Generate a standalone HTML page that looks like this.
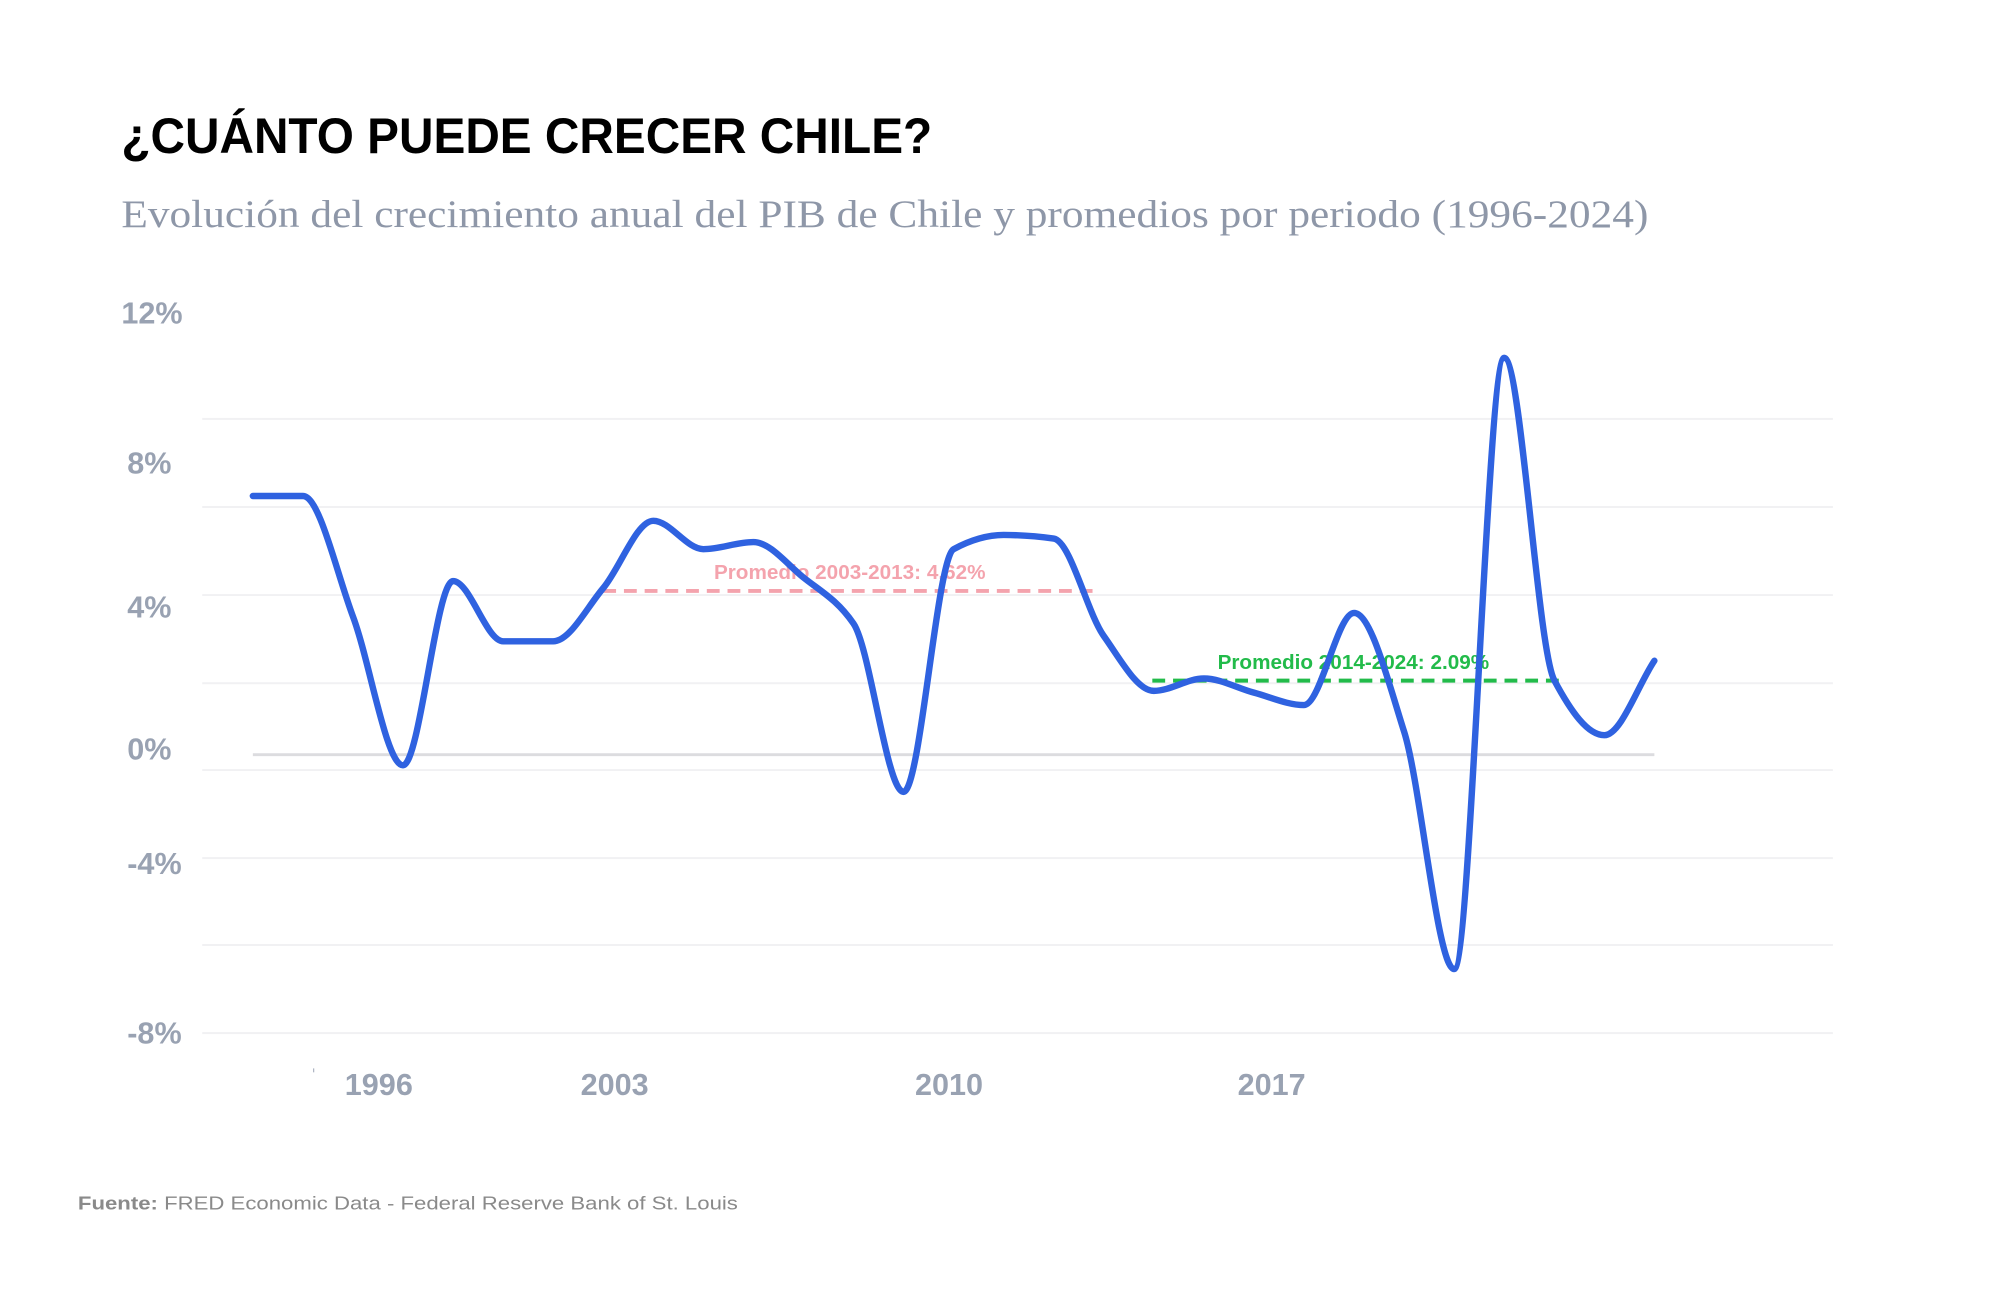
<!DOCTYPE html>
<html><head><meta charset="utf-8"><style>
html,body{margin:0;padding:0;background:#fff;}
svg{display:block;}
</style></head><body>
<svg id="chart" width="2000" height="1300" viewBox="0 0 2000 1300" xmlns="http://www.w3.org/2000/svg" font-family="'Liberation Sans', sans-serif">
<rect width="2000" height="1300" fill="#fff"/>
<g transform="scale(0.9865)">
<text x="123" y="155" font-size="51" font-weight="700" fill="#000" textLength="822" lengthAdjust="spacingAndGlyphs">¿CUÁNTO PUEDE CRECER CHILE?</text>
<text x="123" y="230" font-size="40" font-family="'Liberation Serif', serif" fill="#8e97a8" textLength="1548" lengthAdjust="spacingAndGlyphs">Evolución del crecimiento anual del PIB de Chile y promedios por periodo (1996-2024)</text>
<g id="grid"></g>
<g id="ylabels"></g>
<g id="xlabels"></g>
<line x1="318" y1="1083" x2="318" y2="1087" stroke="#9aa3b3" stroke-width="1"/>
<g id="plot"></g>
<text x="79" y="1226" font-size="19" fill="#8a8a8a" textLength="669" lengthAdjust="spacingAndGlyphs"><tspan font-weight="700">Fuente:</tspan> FRED Economic Data - Federal Reserve Bank of St. Louis</text>
</g>
</svg>
<script>
const years = [1996,1997,1998,1999,2000,2001,2002,2003,2004,2005,2006,2007,2008,2009,2010,2011,2012,2013,2014,2015,2016,2017,2018,2019,2020,2021,2022,2023,2024];
const growth = [7.3,7.3,3.9,-0.3,4.9,3.2,3.2,4.7,6.6,5.8,6.0,5.0,3.7,-1.05,5.8,6.2,6.1,3.35,1.8,2.15,1.75,1.4,4.0,0.65,-6.05,11.2,2.1,0.55,2.65];
const avgLabels = ["Promedio 2003-2013: 4.62%","Promedio 2014-2024: 2.09%"];
const avgValues = [4.62,2.09];
const avgStart = [2003,2013.97];
const avgEnd = [2012.85,2022.2];
const avgColors = ["#f4a3ad","#22bb4a"];
const yTickLabels = ["12%","8%","4%","0%","-4%","-8%"];
const xTickLabels = ["1996","2003","2010","2017"];

const NS="http://www.w3.org/2000/svg";
const X = yr => 256.3 + 50.74*(yr-1996);
const Y = v => 765 - 35.92*v;
function mk(tag, attrs, parent){const e=document.createElementNS(NS,tag);for(const k in attrs)e.setAttribute(k,attrs[k]);parent.appendChild(e);return e;}

const grid=document.getElementById('grid');
const gridYs=[424.6,513.9,603.2,692.6,780.6,869.9,957.9,1047.3];
gridYs.forEach(gy=>{
  const l=mk('line',{x1:205,x2:1858,y1:gy,y2:gy,stroke:'#f1f1f3','stroke-width':2},grid);
  
  
});
const zl=mk('line',{x1:X(1996),x2:X(2024),y1:Y(0),y2:Y(0),stroke:'#dcdcdf','stroke-width':3},grid);



const ylab=document.getElementById('ylabels');
const yPos=[[123,328],[129,480],[129,626],[129,770],[129,886],[129,1058]];
yTickLabels.forEach((t,i)=>{
  const e=mk('text',{x:yPos[i][0],y:yPos[i][1],'font-size':31,'font-weight':600,fill:'#99a2b2'},ylab);
  e.textContent=t;
  
  
});
const xlab=document.getElementById('xlabels');
const xPos=[384,623,962,1289];
xTickLabels.forEach((t,i)=>{
  const e=mk('text',{x:xPos[i],y:1110,'font-size':31,'font-weight':600,fill:'#99a2b2','text-anchor':'middle'},xlab);
  e.textContent=t;
  
  
});

const plot=document.getElementById('plot');
avgValues.forEach((v,i)=>{
  const l=mk('line',{x1:X(avgStart[i]),x2:X(avgEnd[i]),y1:Y(v),y2:Y(v),stroke:avgColors[i],'stroke-width':4,'stroke-dasharray':'13 8'},plot);
  
  
  const cx=(X(avgStart[i])+X(avgEnd[i]))/2+ (i==0?0:-5);
  const t=mk('text',{x:cx,y:Y(v)-12,'font-size':21,'font-weight':700,fill:avgColors[i],'text-anchor':'middle'},plot);
  t.textContent=avgLabels[i];
  
  
});

function monotone(xs,ys){
  const n=xs.length, m=new Array(n), d=[];
  for(let i=0;i<n-1;i++)d.push((ys[i+1]-ys[i])/(xs[i+1]-xs[i]));
  m[0]=d[0];m[n-1]=d[n-2];
  for(let i=1;i<n-1;i++){ if(d[i-1]*d[i]<=0)m[i]=0; else { const h0=xs[i]-xs[i-1],h1=xs[i+1]-xs[i]; m[i]=3*(h0+h1)/((2*h1+h0)/d[i-1]+(h1+2*h0)/d[i]); } }
  let p=`M${xs[0]},${ys[0]}`;
  for(let i=0;i<n-1;i++){const h=(xs[i+1]-xs[i])/3;p+=` C${xs[i]+h},${ys[i]+m[i]*h} ${xs[i+1]-h},${ys[i+1]-m[i+1]*h} ${xs[i+1]},${ys[i+1]}`;}
  return p;
}
const line=mk('path',{d:monotone(years.map(X),growth.map(Y)),fill:'none',stroke:'#2f62e0','stroke-width':6.5,'stroke-linejoin':'round','stroke-linecap':'round'},plot);


</script>
</body></html>
